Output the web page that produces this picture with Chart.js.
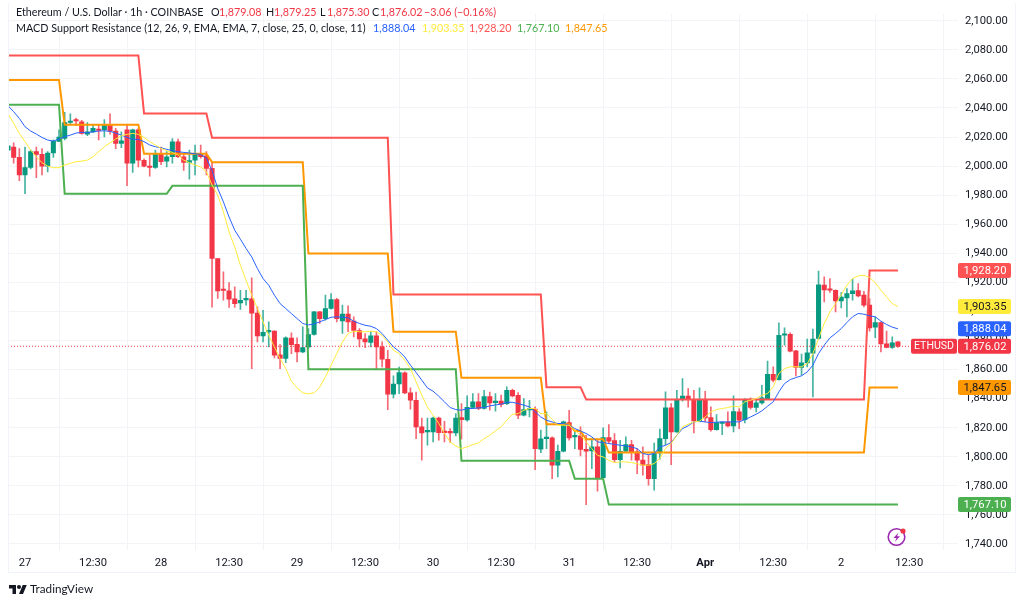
<!DOCTYPE html>
<html>
<head>
<meta charset="utf-8">
<title>ETHUSD</title>
<script src="https://cdn.jsdelivr.net/npm/chart.js@4"></script>
<style>
  html, body { margin: 0; padding: 0; background: #fff; }
  body { width: 1024px; height: 604px; overflow: hidden; position: relative; font-family: Lato, sans-serif; }
  #chart { position: absolute; left: 0; top: 0; }
  #frame { position: absolute; left: 8px; top: 3px; width: 1006px; height: 569px; border: 1px solid #f0f3fa; border-top: none; }
  .txt { position: absolute; font-size: 10.75px; line-height: 14px; color: #131722; white-space: nowrap; }
  #logo { position: absolute; left: 9px; top: 583px; }
  #logotext { position: absolute; left: 30px; top: 580px; font-size: 11.7px; line-height: 17px; color: #131722; }
  #bolt { position: absolute; left: 886px; top: 526px; }
</style>
</head>
<body>
<canvas id="chart" width="1024" height="604"></canvas>
<div id="frame"></div>
<div id="header"></div>
<svg id="logo" width="18" height="11" viewBox="0 0 36 22"><path fill="#131722" d="M14 22H7V11H0V4h14v18zM28 22h-8l7.5-18h8L28 22z"/><circle cx="20" cy="8" r="4" fill="#131722"/></svg>
<div id="logotext">TradingView</div>
<svg id="bolt" width="22" height="22" viewBox="0 0 22 22">
  <circle cx="10.5" cy="11" r="8.3" fill="none" stroke="#9c27b0" stroke-width="1.6"/>
  <path d="M12.5 6.5 L7.5 12 H10.5 L8.8 16 L14 10.2 H11 Z" fill="#9c27b0"/>
  <circle cx="17" cy="5" r="2.6" fill="#f23645"/>
</svg>
<script>
// ---------------- DATA ----------------
const opens = [2011,2013,2006,1994,1999,2010,2008,2000,2009,2017,2019,2030,2031.5,2030.5,2022,2023.5,2025.5,2025,2028.7,2024,2015.6,2025,2002,2025,2004,2000,1999,2008,2003.4,2006.4,2016.7,2006.4,2002.5,2004,2008,2007,1998.4,1936.4,1915.1,1914.1,1908.6,1905.9,1908,1908.6,1898.8,1883.2,1885.9,1886.4,1870.1,1867.6,1881.6,1877.4,1872.2,1875.6,1884.1,1899.7,1895.1,1902,1908.2,1893.5,1898.1,1893.3,1886.9,1881.1,1878.6,1883.2,1875.6,1867.1,1843,1850.1,1857.7,1844,1838.9,1820.6,1817.1,1817.1,1826.7,1817.1,1816.9,1816.4,1827,1825.4,1833.9,1837.8,1833.2,1841.4,1837.3,1838.4,1836.6,1845.8,1842.3,1828.6,1832.2,1832.9,1805.2,1812.5,1813,1794.2,1803.8,1823.5,1813.7,1814.4,1805.2,1804,1806.8,1785.7,1813.2,1811.1,1798,1803.8,1808.4,1803.4,1797.8,1794.6,1785,1802.7,1812.5,1833.6,1817.1,1839.4,1841.7,1839.4,1824.7,1839.4,1827,1818.7,1822.9,1823.8,1821.3,1830.9,1825.6,1838.9,1833.9,1837.1,1840,1856.8,1853.1,1883.6,1884.3,1872.9,1861.4,1864.6,1871.3,1881.4,1918.1,1915.3,1914.6,1907.3,1909.3,1912.3,1914.4,1911.2,1904.3,1889.2,1892.4,1877.7,1875.2,1879.08];
const highs = [2015,2016,2012,2013,2011,2013,2012,2010,2018,2025,2037,2036,2033,2031.5,2030,2028,2028,2032,2036,2026,2023.6,2028,2025.5,2026,2005,2007.6,2011,2013,2010,2019,2018.6,2008,2011,2014.4,2014.4,2010,2003,1936.4,1927.2,1919.9,1916.9,1914.6,1914.6,1923.1,1903.1,1900.8,1892.8,1886.6,1877.2,1882.5,1885.2,1881.8,1889.4,1888.2,1900.1,1900.1,1911.2,1912.3,1909,1904.3,1903.8,1896.3,1888.2,1884.8,1886,1886,1879.1,1873.3,1855.7,1861.8,1858.4,1847.4,1844.6,1826.7,1826.7,1827.4,1827.4,1824.4,1819.4,1829.7,1836.6,1841.9,1843.5,1843.5,1845.8,1844.6,1843.5,1842.4,1848.1,1846.5,1844.2,1840.1,1838.9,1834.3,1818.3,1830.9,1813.7,1808,1824.5,1832,1817.1,1820.6,1814.8,1812.5,1811.4,1819.9,1822.2,1816,1811.4,1813.7,1811.4,1805.6,1806.8,1801.1,1809.5,1819,1844.7,1836.6,1845.8,1853.8,1846.9,1845.8,1847.4,1845.1,1834.3,1829,1824,1830.9,1841.9,1833.2,1840.1,1840.5,1840.1,1849.2,1865.8,1861.9,1892.1,1888.7,1885.3,1873.3,1870.6,1880.9,1887.8,1927.7,1923.8,1922.6,1914.8,1913,1915.8,1922.2,1919.2,1913.9,1908.9,1896.3,1892.8,1886.4,1882.5,1879.25];
const lows = [2010,2002,1990,1981,1998,1992,1994,1996,2006,2017,2018,2029,2028,2022,2021,2023,2018,2020,2022,2012,2012.6,1986.5,1995.6,1999.5,1999.5,1993,1998.4,2001,1999.5,2002,2005.7,1997,1991,1994,2005.5,1994,1903,1908.9,1907.7,1902.7,1902.7,1901.3,1904.3,1860.7,1879,1879,1875.6,1868,1860.7,1864.8,1871,1865.3,1871.7,1874.5,1883.6,1891.7,1894,1901.5,1892.8,1884.8,1886,1882.5,1875.6,1875,1875.6,1860.7,1861.8,1832.5,1840.5,1843.5,1843.5,1832.7,1812.5,1797.6,1808,1810.2,1811.4,1810.2,1809.8,1814.3,1812.1,1824.5,1833.2,1832.5,1832.7,1832,1831.3,1834.3,1835.9,1841.2,1826.3,1828.1,1827.4,1791.2,1802.9,1805.6,1785,1786.1,1803.3,1811.4,1805.6,1800.6,1767.1,1791.9,1776.3,1785.5,1809.1,1796.5,1792.3,1803.3,1797.6,1788.4,1787.3,1780.4,1777,1798.3,1808.4,1794.6,1816.7,1838.2,1834.1,1816.4,1824,1824,1817.6,1818.3,1815.3,1820.6,1817.1,1819.4,1823.3,1832.7,1830.9,1836.2,1839.4,1851.5,1852.7,1876.8,1872.2,1855.7,1856.1,1861.9,1841.2,1880.9,1906.6,1913,1899.7,1902.5,1896.3,1907.7,1910,1903.1,1886.4,1882,1872.2,1874.9,1874.5,1875.3];
const closes = [2014,2006,1994,1999,2010,2008,2000,2009,2017,2020,2030,2031,2031,2022.5,2023.5,2026,2024.5,2028,2024,2015.6,2017.4,2002,2025,2004,2000,1999,2008,2003,2006.4,2016.7,2006.4,2002.5,2003.7,2008.7,2006.4,1998.4,1936.4,1914.1,1914.4,1908.4,1905.4,1907.7,1908.6,1898.8,1883.2,1885.7,1886.4,1869.9,1867.6,1881.8,1877.2,1872.2,1875.1,1884.1,1899.7,1895.1,1902,1908.2,1895.1,1898.1,1892.8,1886.9,1881.1,1879.1,1883.2,1875.6,1867.1,1843,1850.1,1858,1844,1838.9,1820.6,1816.4,1817.8,1826.7,1816.6,1816.6,1816.4,1826.7,1825.6,1834.1,1837.8,1833.2,1841.4,1837.1,1838.2,1836.1,1845.8,1841.9,1828.6,1832.5,1832.9,1805.6,1812.3,1813.2,1794.2,1803.8,1824,1813,1814.4,1805,1803.8,1806.8,1785.7,1813.2,1810.7,1798,1803.8,1808.4,1802.9,1797.6,1794.2,1785,1802.7,1812.5,1833.6,1817.1,1839.4,1841.7,1839.4,1824.7,1839.4,1826.8,1818.7,1823.5,1823.5,1821.3,1831.1,1825.2,1838.9,1833.9,1837.1,1840.5,1856.8,1852.7,1883.6,1884.6,1872.6,1861.4,1864.6,1871.5,1880.9,1918.3,1914.8,1914.6,1907.3,1909.8,1912.3,1914.2,1910.7,1904.3,1888.7,1892.4,1877.7,1875.2,1878.4,1876.02];

const blueLine = [2041.5,2037.4,2032.8,2027.1,2024.1,2022,2019.7,2017.9,2017.2,2018.6,2020.2,2021.3,2022.7,2023.2,2022.9,2023.6,2024.1,2024.3,2023.9,2022.7,2021.3,2019.7,2018.4,2018.4,2016.8,2014.5,2013.3,2012.6,2011.5,2010.6,2009.9,2009.4,2009,2008.5,2008,2005.3,1997,1984.6,1975.4,1965,1955.9,1949.7,1943.3,1937.5,1929.5,1922.6,1918,1911.2,1905.4,1902,1898.5,1895.1,1891.7,1890.7,1891.4,1892.8,1894.4,1896,1896.3,1896,1895.6,1893.3,1891.7,1890.5,1889.8,1888.2,1884.8,1880.2,1875.6,1872.6,1868.7,1863,1858,1852.7,1847.4,1845.1,1841.7,1837.8,1833.9,1832.5,1832,1833.2,1833.2,1833.6,1833.9,1835,1835.7,1836.2,1837.5,1837.5,1836.6,1835.5,1834.3,1830.9,1827.4,1825.1,1824,1822.9,1822.9,1821.7,1819.4,1817.8,1816,1813.7,1810.2,1809.8,1809.1,1808.6,1807.9,1807.5,1806.8,1805.6,1802.2,1801.5,1802.2,1806.8,1807.9,1809.8,1814.8,1819.4,1821.3,1824,1824.5,1824,1823.5,1823.8,1824,1824,1824,1824,1825.6,1827.4,1829.3,1831.6,1834.8,1837.8,1844.7,1850.4,1853.1,1854.5,1855.7,1858.4,1863,1871,1876.8,1881.8,1884.8,1888.2,1892.4,1896.3,1898.6,1898.1,1897,1896.3,1893.3,1891,1889.2,1888.04];
const yellowLine = [2036.2,2029.4,2022.5,2016.8,2011,2006.4,2002.3,2000,1998.9,1998.9,2000.7,2001.8,2003,2003.4,2004.1,2006.4,2009.9,2013.3,2016,2018.6,2020.9,2021.8,2022.5,2021.8,2019.7,2016.8,2014.5,2012.2,2010.6,2009.4,2007.6,2004.1,2002.3,2000.7,1999.5,1996.1,1986.9,1980,1968.5,1954.7,1944.4,1931.8,1921.5,1911.2,1902,1892.8,1883.6,1875.6,1867.6,1860.7,1852,1847.4,1844,1843.3,1844,1848,1855,1863,1871,1879,1884.8,1886.4,1886,1886,1886.4,1886,1883.6,1879,1873.3,1871,1866.4,1860.7,1851.5,1842.4,1834.3,1828.6,1822.9,1816,1810.2,1807.5,1805.6,1806.8,1808.4,1809.5,1812.5,1814.8,1817.8,1820.6,1825.2,1829.3,1829.7,1832,1833.2,1833.2,1829.7,1829.7,1825.8,1821.7,1821.7,1821.7,1818.3,1814.8,1810.2,1805.6,1801,1799.9,1797.6,1796,1796.5,1796.5,1796,1795.3,1794.2,1794.2,1795.3,1798.8,1805.7,1809.1,1814.8,1820.6,1822.4,1824,1824.5,1827.4,1830.9,1832.5,1833.2,1833.9,1834.8,1834.3,1837.8,1838.9,1840.1,1842.4,1843.5,1848.1,1857.3,1860.7,1861.9,1861.9,1861.9,1864.1,1871,1881.4,1891.7,1899.7,1905.4,1911.2,1918.1,1922.6,1924.5,1924.9,1923.3,1919.9,1914.6,1910,1905.4,1903.35];

// step lines: candle index and level at each corner
const redStepX = [0,23,24,35,36,67,68,94,95,101,102,151,152,157];
const redStepY = [2076.1,2076.1,2036.2,2036.2,2019.5,2019.5,1911.6,1911.6,1847.9,1847.9,1839.4,1839.4,1928.2,1928.2];
const orangeStepX = [0,9,10,23,24,35,36,52,53,67,68,79,80,94,95,99,100,101,102,105,106,151,152,157];
const orangeStepY = [2059.2,2059.2,2028.4,2028.4,2008.5,2008.5,2002.7,2002.7,1939.8,1939.8,1886.1,1886.1,1854.3,1854.3,1822.4,1822.4,1817.8,1817.8,1812.1,1812.1,1802.9,1802.9,1847.65,1847.65];
const greenStepX = [0,9,10,28,29,52,53,79,80,99,100,105,106,157];
const greenStepY = [2042.2,2042.2,1980.9,1980.9,1986.4,1986.4,1860.3,1860.3,1797.2,1797.2,1784.9,1784.9,1767.1,1767.1];

const yTicks = [1740,1760,1780,1800,1820,1840,1860,1880,1900,1920,1940,1960,1980,2000,2020,2040,2060,2080,2100];
const xTickIndex = [3,15,27,39,51,63,75,87,99,111,123,135,147,159];
const xTickLabels = ['27','12:30','28','12:30','29','12:30','30','12:30','31','12:30','Apr','12:30','2','12:30'];

const lastPrice = 1876.02;
const symbolLabel = 'ETHUSD';

const RED = '#f23645';
const GREEN = '#089981';
const fmt = v => v.toLocaleString('en-US', { minimumFractionDigits: 2, maximumFractionDigits: 2 });

// ---------------- HEADER ----------------
const headerBits = [
  [16, 5, 'Ethereum / U.S. Dollar · 1h · COINBASE', '#131722'],
  [211, 5, 'O', '#131722'], [219, 5, '1,879.08', RED],
  [266, 5, 'H', '#131722'], [274, 5, '1,879.25', RED],
  [320, 5, 'L', '#131722'], [327, 5, '1,875.30', RED],
  [372, 5, 'C', '#131722'], [380, 5, '1,876.02', RED],
  [424, 5, '−3.06 (−0.16%)', RED],
  [16, 21, 'MACD Support Resistance (12, 26, 9, EMA, EMA, 7, close, 25, 0, close, 11)', '#131722'],
  [373, 21, '1,888.04', '#2962ff'], [422, 21, '1,903.35', '#ffeb3b'],
  [469, 21, '1,928.20', '#ff5252'], [517, 21, '1,767.10', '#4caf50'],
  [565, 21, '1,847.65', '#ff9800']
];
const header = document.getElementById('header');
headerBits.forEach(b => {
  const d = document.createElement('div');
  d.className = 'txt';
  d.style.left = b[0] + 'px';
  d.style.top = b[1] + 'px';
  d.style.color = b[3];
  d.textContent = b[2];
  header.appendChild(d);
});

// ---------------- AXIS PILLS ----------------
const pills = [
  [1928.20, '#ff5252', '#ffffff'],
  [1903.35, '#ffeb3b', '#131722'],
  [1888.04, '#2962ff', '#ffffff'],
  [1847.65, '#ff9800', '#131722'],
  [1767.10, '#4caf50', '#ffffff'],
  [lastPrice, RED, '#ffffff']
];

const pillPlugin = {
  id: 'pills',
  afterDraw(chart) {
    const c = chart.ctx;
    const y = chart.scales.y;
    c.save();
    c.font = '11.2px Roboto';
    c.textBaseline = 'middle';
    c.textAlign = 'center';
    pills.forEach(p => {
      const py = y.getPixelForValue(p[0]);
      c.fillStyle = p[1];
      c.beginPath();
      c.roundRect(958, py - 7.5, 53, 15, 2);
      c.fill();
      c.fillStyle = p[2];
      c.fillText(fmt(p[0]), 985, py + 0.5);
    });
    // symbol tag next to last price
    const py = y.getPixelForValue(lastPrice);
    c.fillStyle = RED;
    c.beginPath();
    c.roundRect(911, py - 7.5, 46, 15, 2);
    c.fill();
    c.fillStyle = '#ffffff';
    c.font = '10.6px Roboto';
    c.fillText(symbolLabel, 934, py + 0.5);
    c.restore();
  }
};

// ---------------- CHART ----------------
const idx = closes.map((_, i) => i);
const candleColor = closes.map((c, i) => c >= opens[i] ? GREEN : RED);
const wickColor = closes.map((c, i) => c >= opens[i] ? 'rgba(8,153,129,0.75)' : 'rgba(242,54,69,0.75)');
const pairs = (xs, ys) => xs.map((x, i) => ({ x: x, y: ys[i] }));
const lineSet = (data, color, width, extra) => Object.assign({
  type: 'line', data: data, borderColor: color, borderWidth: width,
  pointRadius: 0, tension: 0, fill: false, order: 1
}, extra || {});

new Chart(document.getElementById('chart'), {
  data: {
    datasets: [
      { type: 'bar', data: idx.map(i => ({ x: i, y: [lows[i], highs[i]] })), backgroundColor: wickColor,
        barThickness: 1, grouped: false, order: 11 },
      { type: 'bar', data: idx.map(i => ({ x: i, y: [opens[i], closes[i]] })), backgroundColor: candleColor,
        barThickness: 4.4, minBarLength: 1.5, grouped: false, order: 10 },
      lineSet([{ x: 0, y: lastPrice }, { x: 168, y: lastPrice }], RED, 1, { borderDash: [1, 2], order: 5 }),
      lineSet(idx.map(i => ({ x: i, y: yellowLine[i] })), '#ffeb3b', 1),
      lineSet(idx.map(i => ({ x: i, y: blueLine[i] })), '#2962ff', 1),
      lineSet(pairs(greenStepX, greenStepY), '#4caf50', 2),
      lineSet(pairs(orangeStepX, orangeStepY), '#ff9800', 2),
      lineSet(pairs(redStepX, redStepY), '#ff5252', 2)
    ]
  },
  options: {
    responsive: false,
    animation: false,
    layout: { padding: { left: 8, top: 0, right: 0, bottom: 0 } },
    plugins: { legend: { display: false }, tooltip: { enabled: false } },
    scales: {
      x: {
        type: 'linear',
        offset: false,
        min: 0,
        max: 167.6,
        afterBuildTicks: s => { s.ticks = xTickIndex.map(v => ({ value: v })); },
        afterFit: s => { s.height = 54; },
        grid: { color: '#f3f4f7', drawTicks: false, drawOnChartArea: true },
        border: { display: false },
        ticks: {
          autoSkip: false, maxRotation: 0, padding: 6, color: '#131722',
          font: c => ({ family: 'Roboto', size: 11.2, weight: c.tick && xTickLabels[xTickIndex.indexOf(c.tick.value)] === 'Apr' ? '700' : '400' }),
          callback: v => xTickLabels[xTickIndex.indexOf(v)]
        }
      },
      y: {
        position: 'right',
        min: 1735.87,
        max: 2104.82,
        afterBuildTicks: s => { s.ticks = yTicks.map(v => ({ value: v })); },
        afterFit: s => { s.width = 66; },
        grid: { color: '#f3f4f7', drawTicks: false },
        border: { display: false },
        ticks: {
          autoSkip: false, padding: 7, align: 'center', crossAlign: 'near', color: '#131722',
          font: { family: 'Roboto', size: 11.2 },
          callback: v => fmt(v)
        }
      }
    }
  },
  plugins: [pillPlugin]
});
</script>
</body>
</html>
